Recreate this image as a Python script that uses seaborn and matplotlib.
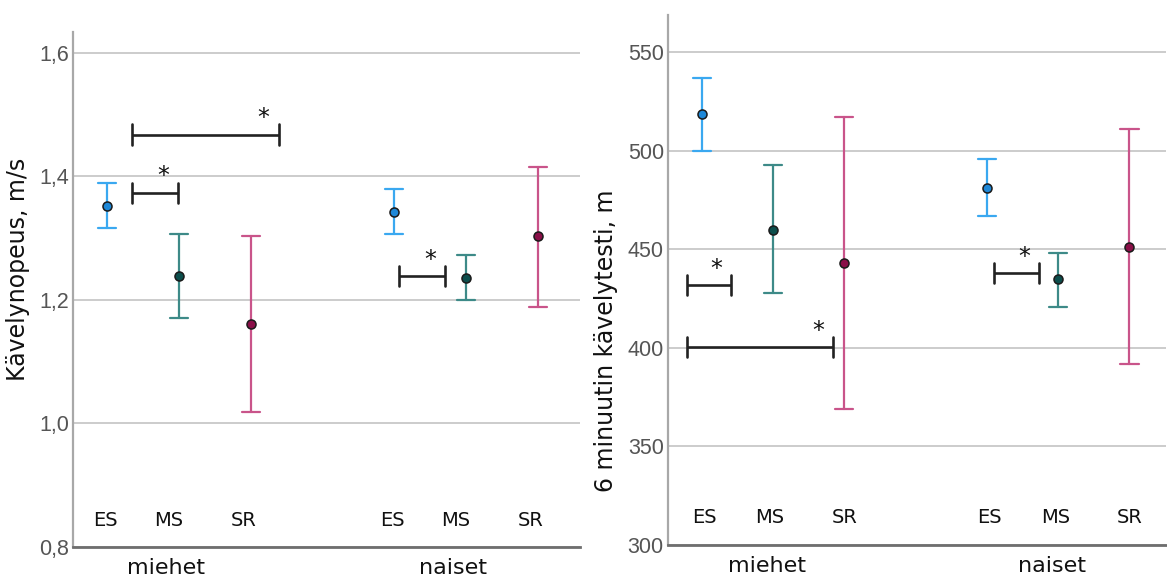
import numpy as np
import pandas as pd
import seaborn as sns
import matplotlib.pyplot as plt
import matplotlib.transforms as mtransforms

# ---------------- data ----------------
groups = ["miehet", "naiset"]
levels = ["ES", "MS", "SR"]

# order: miehet ES, MS, SR, naiset ES, MS, SR
speed_mean = [1.353, 1.239, 1.161, 1.343, 1.236, 1.303]
speed_low = [1.317, 1.171, 1.018, 1.307, 1.200, 1.189]
speed_high = [1.389, 1.307, 1.304, 1.379, 1.273, 1.416]

walk_mean = [519, 460, 443, 481, 435, 451]
walk_low = [500, 428, 369, 467, 421, 392]
walk_high = [537, 493, 517, 496, 448, 511]

speed_ticks = [0.8, 1.0, 1.2, 1.4, 1.6]
speed_ticklabels = ["0,8", "1,0", "1,2", "1,4", "1,6"]
walk_ticks = [300, 350, 400, 450, 500, 550]
walk_ticklabels = ["300", "350", "400", "450", "500", "550"]

speed_label = "Kävelynopeus, m/s"
walk_label = "6 minuutin kävelytesti, m"

# significance brackets: (x start, x end, y) in data units
speed_brackets = [(-0.163, 0.348, 1.468), (-0.163, -0.003, 1.374), (0.767, 0.927, 1.239)]
walk_brackets = [(-0.302, -0.147, 432), (-0.302, 0.211, 400.5), (0.775, 0.933, 438)]

err_colors = {"ES": "#3aa8f0", "MS": "#3d8a88", "SR": "#c9548a"}
mark_colors = {"ES": "#1e88d8", "MS": "#0c4e4c", "SR": "#8a0f48"}


def long_table(means, lows, highs):
    rows = []
    i = 0
    for g in groups:
        for lv in levels:
            for v in (lows[i], means[i], highs[i]):
                rows.append({"group": g, "level": lv, "value": v})
            i += 1
    return pd.DataFrame(rows)


sns.set_theme(style="white")
plt.rcParams["font.family"] = ["DejaVu Sans"]

fig = plt.figure(figsize=(11.67, 5.8), dpi=100)
ax1 = fig.add_axes([73 / 1167, 33 / 580, (580 - 73) / 1167, (547 - 32) / 580])
ax2 = fig.add_axes([668 / 1167, 35 / 580, (1166 - 668) / 1167, (545 - 15) / 580])

DODGE = 0.5


def draw(ax, means, lows, highs, ticks, ticklabels, ylim, xlim, label, label_xy,
         brackets, text_shift, group_shift_px):
    df = long_table(means, lows, highs)
    sns.pointplot(data=df, x="group", y="value", hue="level", order=groups,
                  hue_order=levels, dodge=DODGE, linestyle="none", markers="o",
                  palette=err_colors, estimator="median",
                  errorbar=lambda v: (v.min(), v.max()), capsize=0.064,
                  err_kws={"linewidth": 1.6}, markersize=6.5, legend=False, ax=ax)
    # recolor the markers
    mk = [ln for ln in ax.lines if ln.get_marker() == "o"]
    for ln, lv in zip(mk, levels):
        ln.set_markerfacecolor(mark_colors[lv])
        ln.set_markeredgecolor("#1a1a1a")
        ln.set_markeredgewidth(1.1)
        ln.set_zorder(5)

    ax.set_ylim(*ylim)
    ax.set_xlim(*xlim)
    ax.set_yticks(ticks)
    ax.set_yticklabels(ticklabels, family="Liberation Sans", fontsize=15.5, color="#555555")
    ax.set_xticks([0, 1])
    ax.set_xticklabels(groups, fontsize=16, color="#111111")
    ax.tick_params(axis="x", length=0, pad=8)
    ax.tick_params(axis="y", length=0, pad=3)
    shift = mtransforms.ScaledTranslation(group_shift_px / 100, 0, fig.dpi_scale_trans)
    for t in ax.get_xticklabels():
        t.set_transform(t.get_transform() + shift)
    ax.set_xlabel("")
    ax.set_ylabel(label, fontsize=17, color="#111111")
    ax.yaxis.set_label_coords(*label_xy)
    ax.grid(axis="y", color="#c8c8c8", linewidth=1.3)
    ax.set_axisbelow(True)
    for s in ["top", "right"]:
        ax.spines[s].set_visible(False)
    ax.spines["left"].set_color("#a8a8a8")
    ax.spines["left"].set_linewidth(1.6)
    ax.spines["bottom"].set_color("#6e6e6e")
    ax.spines["bottom"].set_linewidth(2.0)

    # level labels inside the plot
    trans = mtransforms.blended_transform_factory(ax.transData, ax.transAxes)
    offs = np.linspace(-DODGE / 2, DODGE / 2, len(levels))
    for gi in range(len(groups)):
        for li, lv in enumerate(levels):
            ax.text(gi + offs[li] + text_shift[li], 0.052, lv, transform=trans,
                    ha="center", va="center", fontsize=14, color="#111111")

    # significance brackets
    span = ylim[1] - ylim[0]
    h = span * 0.0195
    for x0, x1, y in brackets:
        ax.plot([x0, x1], [y, y], color="#222222", lw=1.9, solid_capstyle="butt", zorder=4)
        for xx in (x0, x1):
            ax.plot([xx, xx], [y - h, y + h], color="#222222", lw=1.9, zorder=4)
        ax.annotate("*", (x1, y), xytext=(-11, 3), textcoords="offset points",
                    ha="center", va="bottom", fontsize=17, color="#111111")


draw(ax1, speed_mean, speed_low, speed_high, speed_ticks, speed_ticklabels,
     (0.8, 1.634), (-0.369, 1.397), speed_label, (-0.085, 0.54),
     speed_brackets, [-0.005, -0.035, -0.025], -13)
draw(ax2, walk_mean, walk_low, walk_high, walk_ticks, walk_ticklabels,
     (300, 569), (-0.368, 1.378), walk_label, (-0.1, 0.385),
     walk_brackets, [0.01, -0.01, 0.0], -6)

fig.savefig("out.png", dpi=100)
